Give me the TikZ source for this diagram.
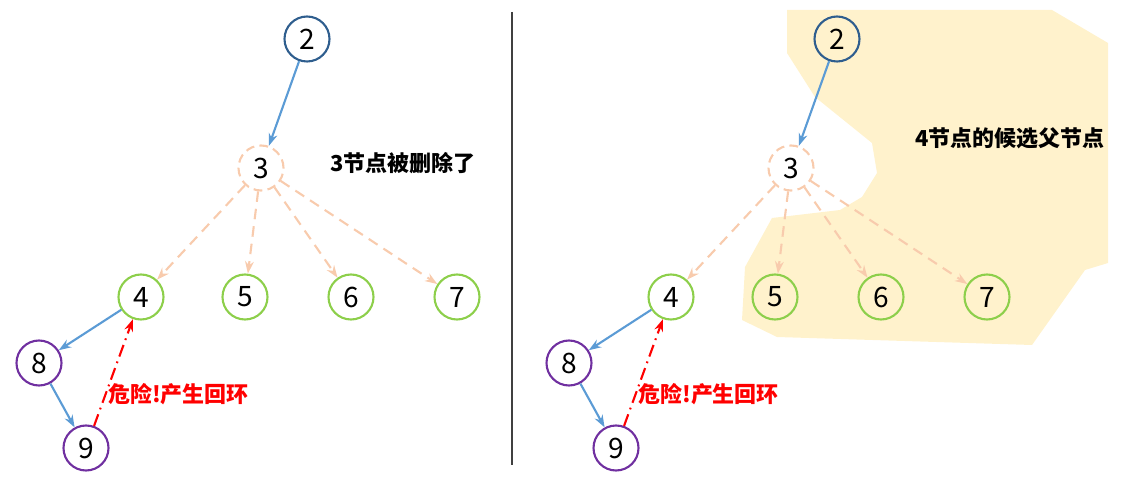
\documentclass[tikz,border=0pt]{standalone}
\usepackage{fontspec}
\setmainfont{Noto Sans CJK SC}
\usetikzlibrary{arrows.meta}

\definecolor{rootblue}{HTML}{2F5E8E}
\definecolor{linkblue}{HTML}{5B9BD5}
\definecolor{leafgreen}{HTML}{8DCF4B}
\definecolor{loopviolet}{HTML}{7030A0}
\definecolor{gonepeach}{HTML}{F8CBAD}
\definecolor{areacream}{HTML}{FFF2CC}

\begin{document}
\begin{tikzpicture}[
									x = 0.02cm,
									y = -0.02cm,
									tn/.style = {
										draw,
										circle,
										line width = 1.2pt,
										inner sep = 0,
										minimum size = 0.9cm,
										font = \fontsize{16}{16}\selectfont
									},
									rootn/.style = {
										tn,
										draw = rootblue
									},
									leafn/.style = {
										tn,
										draw = leafgreen
									},
									loopn/.style = {
										tn,
										draw = loopviolet
									},
									gonen/.style = {
										tn,
										draw = gonepeach,
										dash pattern = on 5pt off 3pt
									},
									bl/.style = {
										draw = linkblue,
										line width = 1.2pt,
										-{Stealth[length = 7pt, width = 5pt]}
									},
									gl/.style = {
										draw = gonepeach,
										line width = 1.2pt,
										dash pattern = on 6pt off 4pt,
										-{Stealth[length = 7pt, width = 5pt]}
									},
									rl/.style = {
										draw = red,
										line width = 1.2pt,
										dash pattern = on 7pt off 3pt on 1pt off 3pt,
										-{Stealth[length = 7pt, width = 5pt]}
									},
									note/.style = {
										inner sep = 0,
										font = \fontsize{12.5}{13}\selectfont\bfseries
									}
								]
							\useasboundingbox (0, 0) rectangle (1135, 479);

							% candidate area on the right
							\fill [areacream] (787, 10) -- (1052, 10) -- (1108, 43) -- (1108, 263)
								-- (1085, 270) -- (1032, 345) -- (777, 337) -- (742, 320)
								-- (745, 267) -- (772, 218) -- (840, 210) -- (862, 197)
								-- (877, 173) -- (872, 143) -- (815, 97) -- (787, 53) -- cycle;

							% divider
							\coordinate (top) at (512, 12);
							\coordinate (bottom) at (512, 465);
							\draw [line width = 1.2pt, black!75] (top) -- (bottom);

							% left panel
							\node [rootn] (l2) at (307, 39) {2};
							\node [gonen] (l3) at (261, 168) {3};
							\node [leafn] (l4) at (141, 297) {4};
							\node [leafn] (l5) at (245, 297) {5};
							\node [leafn] (l6) at (351, 297) {6};
							\node [leafn] (l7) at (457, 297) {7};
							\node [loopn] (l8) at (39, 363) {8};
							\node [loopn] (l9) at (86, 448) {9};

							\draw [bl] (l2) -- (l3);
							\draw [gl] (l3) -- (l4);
							\draw [gl] (l3) -- (l5);
							\draw [gl] (l3) -- (l6);
							\draw [gl] (l3) -- (l7);
							\draw [bl] (l4) -- (l8);
							\draw [bl] (l8) -- (l9);
							\draw [rl] (l9) -- (l4);

							\node [note, anchor = west] (ldel) at (330, 163) {3节点被删除了};
							\node [note, anchor = west, text = red] (lwarn) at (108, 394) {危险!产生回环};

							% right panel
							\node [rootn] (r2) at (837, 39) {2};
							\node [gonen] (r3) at (791, 168) {3};
							\node [leafn] (r4) at (671, 297) {4};
							\node [leafn] (r5) at (775, 297) {5};
							\node [leafn] (r6) at (881, 297) {6};
							\node [leafn] (r7) at (987, 297) {7};
							\node [loopn] (r8) at (569, 363) {8};
							\node [loopn] (r9) at (616, 448) {9};

							\draw [bl] (r2) -- (r3);
							\draw [gl] (r3) -- (r4);
							\draw [gl] (r3) -- (r5);
							\draw [gl] (r3) -- (r6);
							\draw [gl] (r3) -- (r7);
							\draw [bl] (r4) -- (r8);
							\draw [bl] (r8) -- (r9);
							\draw [rl] (r9) -- (r4);

							\node [note, anchor = west] (rcand) at (915, 138) {4节点的候选父节点};
							\node [note, anchor = west, text = red] (rwarn) at (638, 394) {危险!产生回环};
						\end{tikzpicture}
\end{document}
